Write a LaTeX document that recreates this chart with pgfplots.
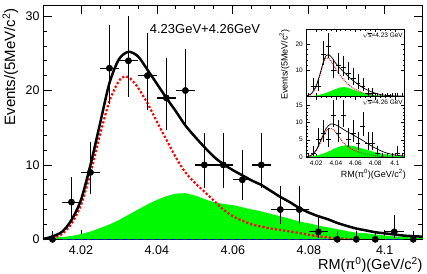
\documentclass[border=0pt]{standalone}
\usepackage{pgfplots}
\pgfplotsset{compat=1.18}
\usepackage{pgfplotstable}
\usepackage{fontspec}
\setmainfont{Liberation Sans}
\definecolor{rgreen}{RGB}{0,250,0}
\definecolor{rred}{RGB}{255,0,0}
\definecolor{rblue}{RGB}{0,0,255}

\pgfplotstableread{
x y ex em ep
4.0125 0 0.0025 0 1.15
4.0175 5 0.0025 2.16 3.38
4.0225 9 0.0025 2.94 4.11
4.0275 23 0.0025 4.77 5.86
4.0325 24 0.0025 4.88 5.97
4.0375 22 0.0025 4.66 5.76
4.0425 19 0.0025 4.32 5.43
4.0475 20 0.0025 4.44 5.55
4.0525 10 0.0025 3.11 4.26
4.0575 10 0.0025 3.11 4.26
4.0625 8 0.0025 2.77 3.94
4.0675 10 0.0025 3.11 4.26
4.0725 4 0.0025 1.91 3.16
4.0775 4 0.0025 1.91 3.16
4.0825 1 0.0025 0.83 2.30
4.0875 0 0.0025 0 1.15
4.0925 0 0.0025 0 1.15
4.0975 0 0.0025 0 1.15
4.1025 1 0.0025 0.83 2.30
4.1075 0 0.0025 0 1.15
}\datamain

\pgfplotstableread{
x y ex em ep
4.0125 0 0.0025 0 1.15
4.0175 4 0.0025 1.91 3.16
4.0225 4 0.0025 1.91 3.16
4.0275 16 0.0025 3.96 5.10
4.0325 19 0.0025 4.32 5.43
4.0375 10 0.0025 3.11 4.26
4.0425 12 0.0025 3.41 4.58
4.0475 11 0.0025 3.27 4.42
4.0525 9 0.0025 2.94 4.11
4.0575 7 0.0025 2.58 3.77
4.0625 5 0.0025 2.16 3.38
4.0675 4 0.0025 1.91 3.16
4.0725 1 0.0025 0.83 2.30
4.0775 1 0.0025 0.83 2.30
4.0825 0 0.0025 0 1.15
4.0875 0 0.0025 0 1.15
4.0925 0 0.0025 0 1.15
4.0975 0 0.0025 0 1.15
4.1025 0 0.0025 0 1.15
4.1075 0 0.0025 0 1.15
}\dataA

\pgfplotstableread{
x y ex em ep
4.0125 0 0.0025 0 1.15
4.0175 1 0.0025 0.83 2.30
4.0225 5 0.0025 2.16 3.38
4.0275 7 0.0025 2.58 3.77
4.0325 5 0.0025 2.16 3.38
4.0375 12 0.0025 3.41 4.58
4.0425 7 0.0025 2.58 3.77
4.0475 12 0.0025 3.41 4.58
4.0525 5 0.0025 2.16 3.38
4.0575 7 0.0025 2.58 3.77
4.0625 4 0.0025 1.91 3.16
4.0675 9 0.0025 2.94 4.11
4.0725 4 0.0025 1.91 3.16
4.0775 4 0.0025 1.91 3.16
4.0825 1 0.0025 0.83 2.30
4.0875 0 0.0025 0 1.15
4.0925 0 0.0025 0 1.15
4.0975 0 0.0025 0 1.15
4.1025 1 0.0025 0.83 2.30
4.1075 0 0.0025 0 1.15
}\dataB

\pgfplotsset{
  rootaxis/.style={
    scale only axis, clip=false,
    xmin=4.01, xmax=4.11, ymin=0,
    xtick={4.02,4.04,4.06,4.08,4.1},
    minor x tick num=3,
    tick align=inside,
    xticklabel pos=lower, yticklabel pos=left,
    /pgf/number format/assume math mode=true,
  },
  pts/.style={only marks, black, mark=*, mark size=3.2pt,
    error bars/.cd, x dir=both, x explicit, y dir=both, y explicit,
    error mark=none, error bar style={line width=1.2pt, black}},
  ipts/.style={only marks, black, mark=*, mark size=0pt,
    mark options={draw opacity=0, fill opacity=0},
    error bars/.cd, x dir=both, x explicit, y dir=both, y explicit,
    error mark=none, error bar style={line width=0.6pt, black, draw opacity=1}},
}

\begin{document}
\begin{tikzpicture}
\path[use as bounding box] (0pt,0pt) rectangle (427pt,273pt);

% ---------------- main axis
\begin{axis}[rootaxis,
  at={(43pt,33.7pt)}, anchor=south west,
  width=379.7pt, height=234.3pt,
  ymax=31.5,
  xticklabels={4.02,4.04,4.06,4.08,4.1},
  ytick={0,10,20,30}, minor y tick num=4,
  major tick length=9pt, minor tick length=4.5pt,
  every tick/.style={black, line width=0.8pt},
  axis line style={line width=0.9pt},
  tick label style={font=\fontsize{12.5}{12.5}\selectfont},
  xticklabel style={yshift=-3pt},
]
\addplot[fill=rgreen, draw=none] table {
4.0100 0.1
4.0125 0.2
4.0150 0.3
4.0175 0.45
4.0200 0.7
4.0225 1.05
4.0250 1.5
4.0275 2.0
4.0300 2.6
4.0325 3.3
4.0350 4.0
4.0375 4.7
4.0400 5.3
4.0425 5.8
4.0450 6.15
4.0475 6.2
4.0500 5.9
4.0525 5.4
4.0550 5.0
4.0575 4.75
4.0600 4.6
4.0625 4.3
4.0650 4.0
4.0675 3.75
4.0700 3.4
4.0725 3.1
4.0750 2.75
4.0775 2.4
4.0800 2.15
4.0825 1.85
4.0850 1.6
4.0875 1.35
4.0900 1.1
4.0925 0.9
4.0950 0.8
4.0975 0.65
4.1000 0.5
4.1025 0.4
4.1050 0.3
4.1075 0.25
4.1100 0.2
} \closedcycle;
\addplot[rblue, line width=1.6pt, dash pattern=on 4pt off 4pt] coordinates {(4.01,0) (4.11,0)};
\addplot[rred, line width=2.2pt, dash pattern=on 2.2pt off 2pt, smooth] table {
4.0125 0.1
4.0150 0.7
4.0175 2.1
4.0200 4.6
4.0225 8.9
4.0250 14.0
4.0275 18.6
4.0300 21.3
4.0316 21.9
4.0330 21.6
4.0350 20.4
4.0375 18.3
4.0400 15.8
4.0425 13.4
4.0450 11.0
4.0475 9.0
4.0500 7.6
4.0525 6.4
4.0550 5.2
4.0575 4.0
4.0600 3.1
4.0625 2.5
4.0650 2.0
4.0675 1.7
4.0700 1.45
4.0725 1.25
4.0750 1.05
4.0775 0.85
4.0800 0.6
4.0825 0.4
4.0850 0.25
4.0875 0.12
4.0900 0.05
4.0925 0.0
};
\addplot[black, line width=2.5pt, smooth] table {
4.0100 0.05
4.0120 0.3
4.0150 1.0
4.0175 2.6
4.0200 5.3
4.0225 10.0
4.0250 15.5
4.0275 21.0
4.0300 24.2
4.0325 25.2
4.0350 24.6
4.0375 22.8
4.0400 20.9
4.0425 19.0
4.0450 17.2
4.0475 15.3
4.0500 13.8
4.0525 12.4
4.0550 11.1
4.0575 10.1
4.0600 9.3
4.0625 8.6
4.0650 7.9
4.0675 7.3
4.0700 6.5
4.0725 5.7
4.0750 5.0
4.0775 4.2
4.0800 3.6
4.0825 3.1
4.0850 2.7
4.0875 2.2
4.0900 1.8
4.0925 1.45
4.0950 1.2
4.0975 0.95
4.1000 0.8
4.1025 0.65
4.1050 0.5
4.1075 0.42
4.1100 0.35
};
\addplot[pts] table[x=x, y=y, x error=ex, y error plus=ep, y error minus=em] {\datamain};
\end{axis}

% ---------------- inset top (4.23)
\begin{axis}[rootaxis,
  at={(306.3pt,176.7pt)}, anchor=south west,
  width=98.4pt, height=67.3pt,
  ymax=25.8,
  xticklabels={},
  ytick={10,20}, minor y tick num=4,
  major tick length=3.5pt, minor tick length=1.8pt,
  every tick/.style={black, line width=0.5pt},
  axis line style={line width=0.6pt},
  tick label style={font=\fontsize{6.5}{6.5}\selectfont},
  axis background/.style={fill=white},
]
\addplot[fill=rgreen, draw=none, smooth] table {
4.010 0.05
4.020 0.3
4.030 1.3
4.040 2.8
4.045 3.4
4.048 3.5
4.052 3.3
4.055 2.9
4.060 2.2
4.065 1.6
4.070 1.1
4.075 0.7
4.080 0.4
4.090 0.15
4.100 0.05
4.110 0.0
} \closedcycle;
\addplot[rred, line width=0.9pt, dash pattern=on 1pt off 1pt, smooth] table {
4.012 0.0
4.015 0.8
4.020 3.6
4.025 9.5
4.0275 12.8
4.030 14.6
4.0325 14.7
4.035 13.5
4.040 10.5
4.045 7.7
4.050 5.5
4.055 3.8
4.060 2.6
4.065 1.7
4.070 1.0
4.075 0.6
4.080 0.3
4.085 0.1
4.090 0.0
};
\addplot[black, line width=0.7pt, smooth] table {
4.010 0.1
4.015 1.0
4.020 4.0
4.025 10.0
4.0275 13.5
4.030 15.5
4.0325 16.0
4.035 15.3
4.0375 14.0
4.040 12.6
4.045 10.5
4.050 8.6
4.055 6.8
4.060 5.3
4.065 3.9
4.070 2.8
4.075 1.9
4.080 1.2
4.085 0.7
4.090 0.4
4.100 0.15
4.110 0.05
};
\addplot[ipts] table[x=x, y=y, x error=ex, y error plus=ep, y error minus=em] {\dataA};
\end{axis}

% ---------------- inset bottom (4.26)
\begin{axis}[rootaxis,
  at={(306.3pt,116pt)}, anchor=south west,
  width=98.4pt, height=60.7pt,
  ymax=17.6,
  xticklabels={4.02,4.04,4.06,4.08,4.1},
  ytick={0,5,10,15}, minor y tick num=4,
  major tick length=3.5pt, minor tick length=1.8pt,
  every tick/.style={black, line width=0.5pt},
  axis line style={line width=0.6pt},
  tick label style={font=\fontsize{6.5}{6.5}\selectfont},
  axis background/.style={fill=white},
]
\addplot[fill=rgreen, draw=none, smooth] table {
4.010 0.1
4.020 0.4
4.030 1.3
4.040 2.6
4.045 3.1
4.050 3.4
4.055 3.3
4.060 3.0
4.065 2.6
4.070 2.2
4.075 1.8
4.080 1.4
4.085 1.1
4.090 0.8
4.100 0.4
4.110 0.2
} \closedcycle;
\addplot[rred, line width=0.9pt, dash pattern=on 1pt off 1pt, smooth] table {
4.012 0.0
4.015 0.4
4.020 1.8
4.025 4.6
4.030 7.5
4.034 8.3
4.038 7.8
4.042 6.3
4.046 4.7
4.050 3.5
4.055 2.5
4.060 1.8
4.065 1.3
4.070 0.9
4.075 0.6
4.080 0.35
4.085 0.15
4.090 0.05
4.095 0.0
};
\addplot[black, line width=0.7pt, smooth] table {
4.010 0.05
4.015 0.5
4.020 2.0
4.025 5.0
4.030 8.2
4.035 9.6
4.040 9.3
4.045 8.5
4.050 7.6
4.055 6.8
4.060 6.0
4.065 5.2
4.070 4.3
4.075 3.4
4.080 2.6
4.085 1.9
4.090 1.3
4.095 0.9
4.100 0.6
4.105 0.4
4.110 0.3
};
\addplot[ipts] table[x=x, y=y, x error=ex, y error plus=ep, y error minus=em] {\dataB};
\end{axis}

% ---------------- texts
\node[anchor=base east, font=\fontsize{14.5}{14.5}\selectfont, inner sep=0pt]
  at (422.7pt,3.5pt) {RM(π\textsuperscript{0})(GeV/c\textsuperscript{2})};
\node[rotate=90, anchor=base east, font=\fontsize{15}{15}\selectfont, inner sep=0pt]
  at (15pt,265pt) {Events/(5MeV/c\textsuperscript{2})};
\node[font=\fontsize{13}{13}\selectfont, inner sep=0pt] at (205pt,244pt) {4.23GeV+4.26GeV};

\node[anchor=north east, font=\fontsize{6.5}{6.5}\selectfont, inner sep=0pt]
  at (403pt,241pt) {$\sqrt{\mbox{s}}$=4.23 GeV};
\node[anchor=north east, font=\fontsize{6.5}{6.5}\selectfont, inner sep=0pt]
  at (403pt,174pt) {$\sqrt{\mbox{s}}$=4.26 GeV};
\node[rotate=90, anchor=base east, font=\fontsize{9}{9}\selectfont, inner sep=0pt]
  at (287.5pt,244pt) {Events/(5MeV/c\textsuperscript{2})};
\node[anchor=base east, font=\fontsize{9}{9}\selectfont, inner sep=0pt]
  at (406pt,96pt) {RM(π\textsuperscript{0})(GeV/c\textsuperscript{2})};
\end{tikzpicture}
\end{document}
